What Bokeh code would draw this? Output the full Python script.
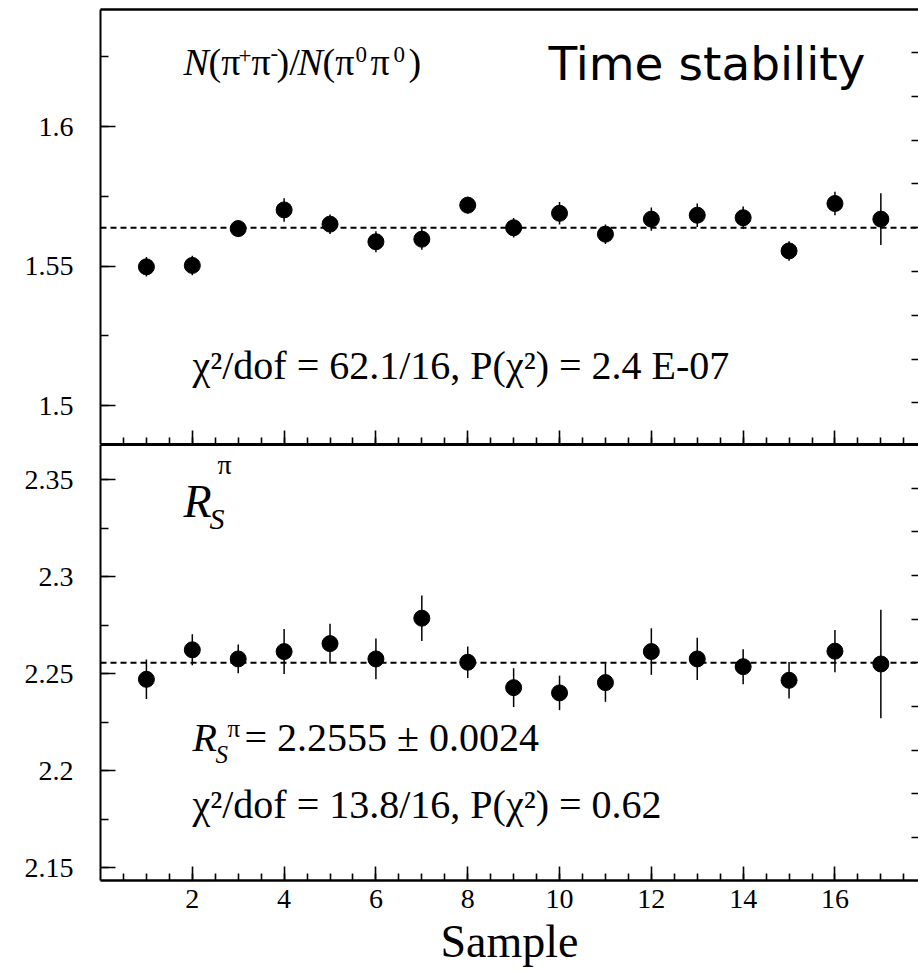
import numpy as np
from bokeh.plotting import figure
from bokeh.models import ColumnDataSource, Range1d, FixedTicker, LinearAxis, Span, Label
from bokeh.layouts import column
from bokeh.embed import file_html
from bokeh.resources import INLINE

# ---------------- data ----------------
samples = list(range(1, 18))

ratio = [1.5497, 1.5502, 1.5634, 1.5701, 1.5650, 1.5587, 1.5596, 1.5718, 1.5637,
         1.5689, 1.5614, 1.5668, 1.5682, 1.5673, 1.5554, 1.5724, 1.5668]
ratio_err = [0.0035, 0.0035, 0.0030, 0.0042, 0.0035, 0.0038, 0.0038, 0.0030, 0.0035,
             0.0040, 0.0035, 0.0042, 0.0042, 0.0040, 0.0035, 0.0042, 0.0093]
ratio_mean = 1.5637

rs = [2.2470, 2.2622, 2.2575, 2.2613, 2.2654, 2.2575, 2.2785, 2.2558, 2.2427,
      2.2400, 2.2453, 2.2613, 2.2575, 2.2535, 2.2465, 2.2615, 2.2549]
rs_err = [0.0102, 0.0080, 0.0074, 0.0116, 0.0102, 0.0105, 0.0117, 0.0081, 0.0100,
          0.0089, 0.0099, 0.0120, 0.0109, 0.0090, 0.0094, 0.0109, 0.0280]
rs_mean = 2.2555

x_ticks = [2, 4, 6, 8, 10, 12, 14, 16]
x_tick_labels = ["2", "4", "6", "8", "10", "12", "14", "16"]
y1_ticks = [1.5, 1.55, 1.6]
y1_tick_labels = ["1.5", "1.55", "1.6"]
y2_ticks = [2.15, 2.2, 2.25, 2.3, 2.35]
y2_tick_labels = ["2.15", "2.2", "2.25", "2.3", "2.35"]

SERIF = "Liberation Serif"

# ---------------- layout helpers ----------------
FIG_W = 918
LEFT = 100
X_START, X_END = 0.0, 17.82
PXX = (FIG_W - LEFT) / (X_END - X_START)
TOP_FRAME = (9, 444)
BOT_FRAME = (444, 880)
BOT_BORDER = 90
BASE_K = 0.38   # empirical baseline correction (fraction of font size)


def to_x(px):
    return X_START + (px - LEFT) / PXX


def to_top(py):
    return 1.6 - (py - 126) / 2790.0


def to_bot(py):
    return 2.25 - (py - 673) / 1940.0


def make_fig(height, yr, top, bottom):
    p = figure(width=FIG_W, height=height, output_backend="svg", toolbar_location=None,
               x_range=Range1d(X_START, X_END), y_range=yr,
               x_axis_location=None, y_axis_location=None,
               min_border_left=LEFT, min_border_right=0,
               min_border_top=top, min_border_bottom=bottom)
    p.outline_line_color = None
    p.xgrid.visible = False
    p.ygrid.visible = False
    p.background_fill_color = "white"
    p.border_fill_color = "white"
    return p


def style(ax, line_w=2.5, maj_in=14, min_in=7, label_size="28px", standoff=8):
    ax.axis_line_color = "black"
    ax.axis_line_width = line_w
    ax.major_tick_line_color = "black"
    ax.minor_tick_line_color = "black"
    ax.major_tick_line_width = 1.6
    ax.minor_tick_line_width = 1.6
    ax.major_tick_in = maj_in
    ax.major_tick_out = 0
    ax.minor_tick_in = min_in
    ax.minor_tick_out = 0
    ax.major_label_text_font = SERIF
    ax.major_label_text_font_size = label_size
    ax.major_label_text_color = "black"
    ax.major_label_standoff = standoff


def blank_axis(ticks=(), minor=(), line_w=0, maj_in=0, min_in=0, line=True):
    ax = LinearAxis(ticker=FixedTicker(ticks=list(ticks), minor_ticks=list(minor)))
    style(ax, line_w=line_w if line else 1, maj_in=maj_in, min_in=min_in,
          label_size="0px", standoff=0)
    if not line:
        ax.axis_line_color = None
    ax.major_label_overrides = {t: "" for t in ticks}
    return ax


def add_text(p, px, py, text, size, conv, font=SERIF, style_="normal", align="left"):
    p.add_layout(Label(x=to_x(px), y=conv(py - BASE_K * size), text=text, text_font=font,
                       text_font_size=f"{size}px", text_font_style=style_,
                       text_color="black", text_baseline="alphabetic",
                       text_align=align))


x_minor = list(np.arange(0.5, 17.6, 0.5))

# ---------------- top panel ----------------
top_h = TOP_FRAME[1]
p1 = make_fig(top_h, Range1d(to_top(TOP_FRAME[1]), to_top(TOP_FRAME[0])), TOP_FRAME[0], 0)

src1 = ColumnDataSource(dict(x=samples, y=ratio,
                             lo=[v - e for v, e in zip(ratio, ratio_err)],
                             hi=[v + e for v, e in zip(ratio, ratio_err)]))
p1.add_layout(Span(location=ratio_mean, dimension="width", line_color="black",
                   line_dash="6 4", line_width=2))
p1.segment(x0="x", y0="lo", x1="x", y1="hi", source=src1, line_color="black", line_width=1.5)
p1.scatter("x", "y", source=src1, size=16, color="black")

ly1 = LinearAxis(ticker=FixedTicker(ticks=y1_ticks,
                                    minor_ticks=list(np.arange(1.5, 1.64, 0.025))))
style(ly1, line_w=2, maj_in=15, min_in=8, standoff=27)
ly1.major_label_overrides = dict(zip(y1_ticks, y1_tick_labels))
p1.add_layout(ly1, "left")

p1.add_layout(blank_axis(ticks=x_ticks, minor=x_minor, line_w=3, maj_in=14, min_in=7), "below")
p1.add_layout(blank_axis(line_w=2.5), "above")
right1 = [ratio_mean + k * 0.0157 for k in range(-4, 5)]
p1.add_layout(blank_axis(ticks=right1, maj_in=7, line=False), "right")

# N(pi+ pi-)/N(pi0 pi0)
add_text(p1, 183, 76, "N", 38, to_top, style_="italic")
add_text(p1, 208, 76, "(π", 38, to_top)
add_text(p1, 238, 64, "+", 23, to_top)
add_text(p1, 251, 76, "π", 38, to_top)
add_text(p1, 270, 62, "-", 23, to_top)
add_text(p1, 276, 76, ")/", 38, to_top)
add_text(p1, 297, 76, "N", 38, to_top, style_="italic")
add_text(p1, 322, 76, "(π", 38, to_top)
add_text(p1, 355, 63, "0", 23, to_top)
add_text(p1, 370, 76, "π", 38, to_top)
add_text(p1, 393, 63, "0", 23, to_top)
add_text(p1, 408, 76, ")", 38, to_top)

add_text(p1, 192, 380, "χ²/dof = 62.1/16, P(χ²) = 2.4 E-07", 40, to_top)
add_text(p1, 548, 81, "Time stability", 47, to_top, font="DejaVu Sans")

# ---------------- bottom panel ----------------
bot_h = (BOT_FRAME[1] - BOT_FRAME[0]) + BOT_BORDER
p2 = make_fig(bot_h, Range1d(to_bot(BOT_FRAME[1]), to_bot(BOT_FRAME[0])), 0, BOT_BORDER)

src2 = ColumnDataSource(dict(x=samples, y=rs,
                             lo=[v - e for v, e in zip(rs, rs_err)],
                             hi=[v + e for v, e in zip(rs, rs_err)]))
p2.add_layout(Span(location=rs_mean, dimension="width", line_color="black",
                   line_dash="6 4", line_width=2))
p2.segment(x0="x", y0="lo", x1="x", y1="hi", source=src2, line_color="black", line_width=1.5)
p2.scatter("x", "y", source=src2, size=16, color="black")

ly2 = LinearAxis(ticker=FixedTicker(ticks=y2_ticks,
                                    minor_ticks=list(np.arange(2.15, 2.37, 0.025))))
style(ly2, line_w=2, maj_in=15, min_in=8, standoff=27)
ly2.major_label_overrides = dict(zip(y2_ticks, y2_tick_labels))
p2.add_layout(ly2, "left")

bx2 = LinearAxis(ticker=FixedTicker(ticks=x_ticks, minor_ticks=x_minor))
style(bx2, line_w=2.5, maj_in=14, min_in=7, standoff=9)
bx2.major_label_overrides = dict(zip(x_ticks, x_tick_labels))
bx2.axis_label = "Sample"
bx2.axis_label_text_font = SERIF
bx2.axis_label_text_font_size = "46px"
bx2.axis_label_text_font_style = "normal"
bx2.axis_label_text_color = "black"
bx2.axis_label_standoff = 5
p2.add_layout(bx2, "below")
p2.add_layout(blank_axis(line_w=3), "above")
right2 = [rs_mean + k * 0.0225 for k in range(-4, 5)]
p2.add_layout(blank_axis(ticks=right2, maj_in=7, line=False), "right")

# R_S^pi label
add_text(p2, 183, 518, "R", 46, to_bot, style_="italic")
add_text(p2, 217, 475, "π", 28, to_bot)
add_text(p2, 209, 529, "S", 30, to_bot, style_="italic")

add_text(p2, 192, 752, "R", 40, to_bot, style_="italic")
add_text(p2, 227, 737, "π", 25, to_bot)
add_text(p2, 215, 763, "S", 25, to_bot, style_="italic")
add_text(p2, 244, 752, "= 2.2555 ± 0.0024", 40, to_bot)
add_text(p2, 192, 819, "χ²/dof = 13.8/16, P(χ²) = 0.62", 40, to_bot)

layout = column(p1, p2, spacing=0)
open("out.html", "w").write(file_html(layout, INLINE))
